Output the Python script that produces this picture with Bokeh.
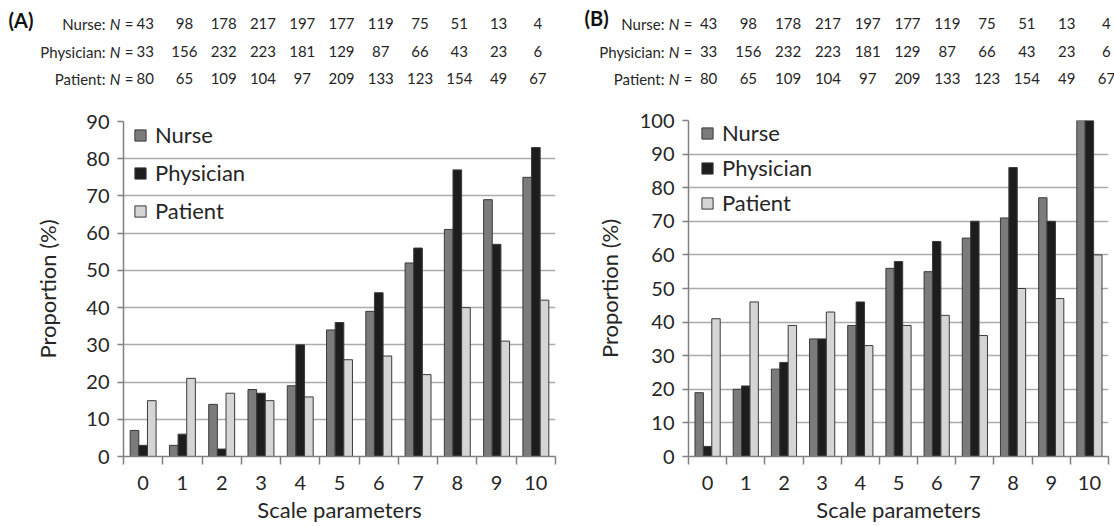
import numpy as np
from bokeh.plotting import figure
from bokeh.layouts import row, column
from bokeh.models import Range1d, FixedTicker, Legend, LegendItem, ColumnDataSource
from bokeh.core.properties import value
from bokeh.embed import file_html
from bokeh.resources import INLINE

# ---------------- data ----------------
scale = list(range(11))
tick_labels = [str(s) for s in scale]

groups = ["Nurse", "Physician", "Patient"]
n_nurse = [43, 98, 178, 217, 197, 177, 119, 75, 51, 13, 4]
n_physician = [33, 156, 232, 223, 181, 129, 87, 66, 43, 23, 6]
n_patient = [80, 65, 109, 104, 97, 209, 133, 123, 154, 49, 67]

a_nurse = [7, 3, 14, 18, 19, 34, 39, 52, 61, 69, 75]
a_physician = [3, 6, 2, 17, 30, 36, 44, 56, 77, 57, 83]
a_patient = [15, 21, 17, 15, 16, 26, 27, 22, 40, 31, 42]

b_nurse = [19, 20, 26, 35, 39, 56, 55, 65, 71, 77, 100]
b_physician = [3, 21, 28, 35, 46, 58, 64, 70, 86, 70, 100]
b_patient = [41, 46, 39, 43, 33, 39, 42, 36, 50, 47, 60]

# ---------------- style ----------------
FONT = "Lato"
TXT = "#262626"
COLORS = ["#7b7b7b", "#1d1d1d", "#d5d5d5"]
EDGE = "#3a3a3a"
AXIS = "#808080"
GRID = "#ababab"
HEAD_FS = "15px"
HEAD_H = 100
PLOT_H = 425
ITEM_H = 26.4  # approx. legend row height for 22px text


def header(tag, W, left, right, hdr):
    ppx = (W - left - right) / 11.0
    x0 = -0.5 - left / ppx
    x1 = 10.5 + right / ppx
    h = figure(width=W, height=HEAD_H, x_range=Range1d(x0, x1), y_range=Range1d(HEAD_H, 0),
               min_border=0, toolbar_location=None, output_backend="svg",
               x_axis_location=None, y_axis_location=None, outline_line_color=None,
               frame_align=False)
    h.grid.visible = False

    def dx(px):
        return x0 + px / ppx

    h.text(x=[dx(hdr["tag_x"])], y=[hdr["tag_y"]], text=[tag], text_align="left",
           text_baseline="middle", text_font=value(FONT), text_font_style="bold",
           text_font_size="20px", text_color="#111111")
    counts = [n_nurse, n_physician, n_patient]
    xr = dx(hdr["label_right"])
    for name, py, cnt in zip(groups, hdr["rows"], counts):
        for txt, off, style in [(name + ":", -28, "normal"), ("N", -13, "italic"),
                                ("=", 0, "normal")]:
            h.text(x=[xr], y=[py], text=[txt], x_offset=off, text_align="right",
                   text_baseline="middle", text_font=value(FONT), text_font_style=style,
                   text_font_size=HEAD_FS, text_color=TXT)
        hs = ColumnDataSource(dict(
            x=scale, y=[py] * len(scale), t=[str(c) for c in cnt],
            off=[hdr["num_off"] + i * hdr["num_grow"] for i in range(len(scale))]))
        h.text(x="x", y="y", text="t", x_offset="off", source=hs, text_align="center",
               text_baseline="middle", text_font=value(FONT), text_font_size=HEAD_FS,
               text_color=TXT)
    return h


def panel(nurse, physician, patient, ymax, W, left, right, top, bottom,
          ylab_standoff, leg):
    p = figure(width=W, height=PLOT_H, x_range=Range1d(-0.5, 10.5), y_range=Range1d(0, ymax),
               min_border_left=left, min_border_right=right, min_border_top=top,
               min_border_bottom=bottom, toolbar_location=None, output_backend="svg",
               outline_line_color=None, frame_align=False)
    fh = PLOT_H - top - bottom

    src = ColumnDataSource(dict(x=np.array(scale, dtype=float), nurse=nurse,
                                physician=physician, patient=patient))
    bw = 0.22
    rends = []
    for i, (col, c) in enumerate(zip(["nurse", "physician", "patient"], COLORS)):
        src.data["x_" + col] = np.array(scale, dtype=float) + (i - 1) * bw
        r = p.vbar(x="x_" + col, top=col, width=bw, source=src, fill_color=c,
                   line_color=EDGE, line_width=1)
        rends.append(r)

    p.xgrid.visible = False
    p.ygrid.ticker = FixedTicker(ticks=list(range(0, ymax + 1, 10)))
    p.ygrid.grid_line_color = GRID
    p.ygrid.grid_line_width = 1.5

    xa = p.xaxis[0]
    xa.ticker = FixedTicker(ticks=scale, minor_ticks=[s - 0.5 for s in scale] + [10.5])
    xa.major_label_overrides = {s: l for s, l in zip(scale, tick_labels)}
    xa.major_tick_out = 0
    xa.major_tick_in = 0
    xa.minor_tick_out = 8
    xa.minor_tick_in = 0
    xa.axis_label = "Scale parameters"
    xa.major_label_standoff = 11
    xa.axis_label_standoff = 3

    ya = p.yaxis[0]
    ya.ticker = FixedTicker(ticks=list(range(0, ymax + 1, 10)))
    ya.major_tick_out = 6
    ya.major_tick_in = 0
    ya.minor_tick_out = 0
    ya.minor_tick_in = 0
    ya.axis_label = "Proportion (%)"
    ya.major_label_standoff = 8
    ya.axis_label_standoff = ylab_standoff

    for ax in (xa, ya):
        ax.axis_line_color = AXIS
        ax.axis_line_width = 1.5
        ax.major_tick_line_color = AXIS
        ax.minor_tick_line_color = AXIS
        ax.major_tick_line_width = 1.5
        ax.minor_tick_line_width = 1.5
        ax.major_label_text_font = FONT
        ax.major_label_text_font_size = "20px"
        ax.major_label_text_color = TXT
        ax.axis_label_text_font = FONT
        ax.axis_label_text_font_size = "22px"
        ax.axis_label_text_font_style = "normal"
        ax.axis_label_text_color = TXT

    pad = 3
    spacing = leg["pitch"] - ITEM_H
    leg_h = 2 * pad + 3 * ITEM_H + 2 * spacing
    leg_top = leg["first_center"] - ITEM_H / 2 - pad  # px below frame top
    legend = Legend(items=[LegendItem(label=g, renderers=[r]) for g, r in zip(groups, rends)],
                    location=(leg["x"] - pad, fh - leg_top - leg_h),
                    border_line_color=None, background_fill_alpha=0,
                    label_text_font=FONT, label_text_font_size="22px", label_text_color=TXT,
                    glyph_width=14, glyph_height=14, label_height=14, label_standoff=8,
                    spacing=int(round(spacing)), padding=pad, margin=0)
    p.add_layout(legend)
    return p


WA, WB = 570, 544
LA, RA = 123, 15
LB, RB = 118, 6

hdrA = dict(tag_x=8, tag_y=19, rows=[23, 51, 78], label_right=133, num_off=2, num_grow=0.0)
hdrB = dict(tag_x=14, tag_y=17, rows=[23, 51, 78], label_right=122, num_off=1, num_grow=1.6)

hA = header("(A)", WA, LA, RA, hdrA)
pA = panel(a_nurse, a_physician, a_patient, 90, WA, LA, RA, 21, 65, 22,
           dict(x=13, first_center=17, pitch=37))
hB = header("(B)", WB, LB, RB, hdrB)
pB = panel(b_nurse, b_physician, b_patient, 100, WB, LB, RB, 20, 65, 14,
           dict(x=15, first_center=15, pitch=34.5))

layout = row(column(hA, pA), column(hB, pB))

open("out.html", "w").write(file_html(layout, INLINE))
